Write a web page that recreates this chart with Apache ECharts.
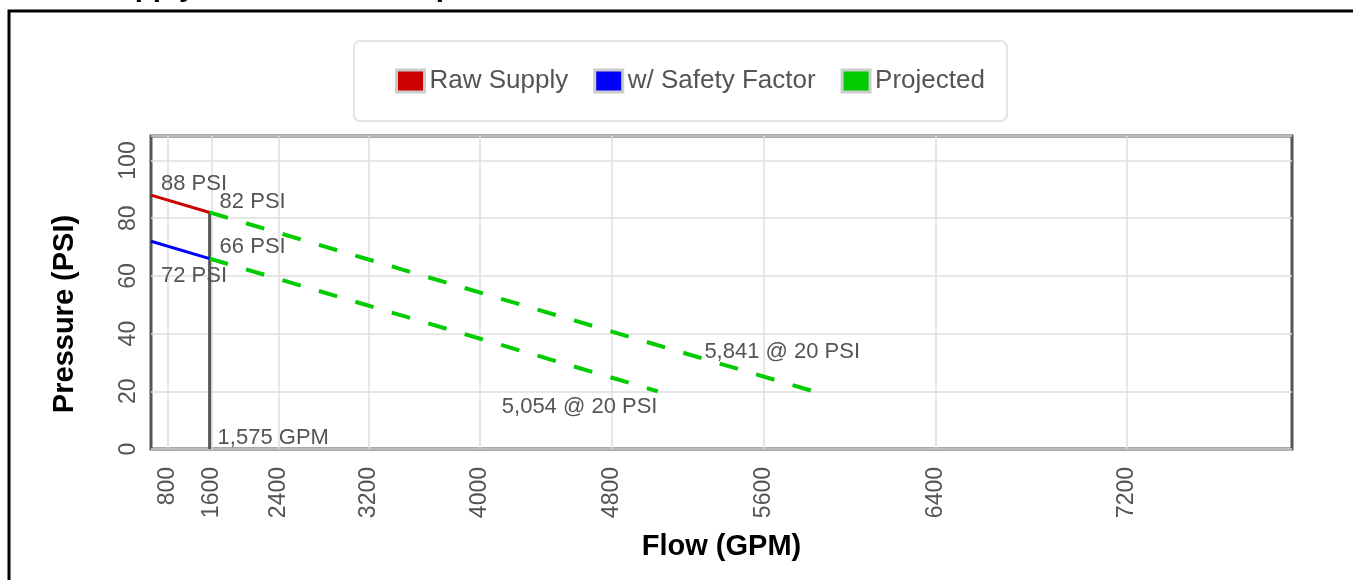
<!DOCTYPE html>
<html><head><meta charset="utf-8">
<script src="https://cdn.jsdelivr.net/npm/echarts@6/dist/echarts.min.js"></script>
<style>html,body{margin:0;padding:0;background:#fff;overflow:hidden}#c{width:1353px;height:580px}</style>
</head><body><div id="c"></div>
<script>
// ---- data ----
const EXP = 1.85;                       // N^1.85 hydraulic graph scale
const flowTicks = [800, 1600, 2400, 3200, 4000, 4800, 5600, 6400, 7200];
const pressureTicks = [0, 20, 40, 60, 80, 100];
const flowMax = 7837;
const pressureMax = 108.5;

const rawFlows = [0, 1575];
const rawPressures = [88, 82];
const safetyFlows = [0, 1575];
const safetyPressures = [72, 66];
const projRawFlows = [1575, 5841];
const projRawPressures = [82, 20];
const projSafetyFlows = [1575, 5054];
const projSafetyPressures = [66, 20];
const testFlows = [1575, 1575];
const testPressures = [0, 82];

const FONT = 'Liberation Sans, Arial, Helvetica, sans-serif';
const LABEL_COLOR = '#545454';

function t(q) { return Math.pow(q / 1000, EXP); }
function fmtFlow(q) { return q.toLocaleString('en-US'); }
function pts(xs, ys, labels) {
  return xs.map((q, i) => {
    const d = { value: [t(q), ys[i]] };
    if (labels && labels[i]) {
      d.label = Object.assign({
        show: true, position: 'right', distance: 0,
        fontSize: 22, color: LABEL_COLOR, fontFamily: FONT
      }, labels[i]);
    }
    return d;
  });
}

const chart = echarts.init(document.getElementById('c'), null, { renderer: 'canvas' });

const series = [
  {
    name: 'grid', type: 'line', data: [], z: 1, silent: true,
    markLine: {
      silent: true, symbol: ['none', 'none'], animation: false, z: 1,
      label: { show: false },
      lineStyle: { color: '#dedede', width: 1.5, type: 'solid' },
      data: flowTicks.map(q => ({ xAxis: t(q) }))
    }
  },
  {
    name: 'Raw Supply', type: 'line', z: 3,
    symbol: 'circle', symbolSize: 0, showSymbol: true,
    itemStyle: { color: '#cc0000' },
    lineStyle: { color: '#cc0000', width: 3 },
    data: pts(rawFlows, rawPressures, [
      { formatter: rawPressures[0] + ' PSI', offset: [10, -11] },
      { formatter: rawPressures[1] + ' PSI', offset: [10, -11] }
    ])
  },
  {
    name: 'w/ Safety Factor', type: 'line', z: 3,
    symbol: 'circle', symbolSize: 0, showSymbol: true,
    itemStyle: { color: '#0000ff' },
    lineStyle: { color: '#0000ff', width: 3 },
    data: pts(safetyFlows, safetyPressures, [
      { formatter: safetyPressures[0] + ' PSI', offset: [10, 35] },
      { formatter: safetyPressures[1] + ' PSI', offset: [10, -12] }
    ])
  },
  {
    name: 'Projected', type: 'line', z: 3,
    symbol: 'circle', symbolSize: 0, showSymbol: true,
    itemStyle: { color: '#00cc00' },
    lineStyle: { color: '#00cc00', width: 4, type: [19, 19] },
    data: pts(projRawFlows, projRawPressures, [
      null,
      { formatter: fmtFlow(projRawFlows[1]) + ' @ ' + projRawPressures[1] + ' PSI', offset: [-109, -39] }
    ])
  },
  {
    name: 'Projected', type: 'line', z: 3,
    symbol: 'circle', symbolSize: 0, showSymbol: true,
    itemStyle: { color: '#00cc00' },
    lineStyle: { color: '#00cc00', width: 4, type: [19, 19] },
    data: pts(projSafetyFlows, projSafetyPressures, [
      null,
      { formatter: fmtFlow(projSafetyFlows[1]) + ' @ ' + projSafetyPressures[1] + ' PSI', offset: [-156, 16] }
    ])
  },
  {
    name: 'Test Flow', type: 'line', z: 2,
    symbol: 'circle', symbolSize: 0, showSymbol: true,
    itemStyle: { color: '#555555' },
    lineStyle: { color: '#555555', width: 3 },
    data: pts(testFlows, testPressures, [
      { formatter: fmtFlow(testFlows[0]) + ' GPM', offset: [8, -11] },
      null
    ])
  }
];

chart.setOption({
  animation: false,
  backgroundColor: '#ffffff',
  title: {
    text: 'Water Supply Test Results Graph',
    left: 8, top: -27, padding: 0,
    textStyle: { fontSize: 29.5, fontWeight: 'bold', color: '#000', fontFamily: FONT }
  },
  graphic: [{
    type: 'rect', silent: true, z: -10,
    shape: { x: 9, y: 11, width: 1500, height: 800 },
    style: { fill: 'none', stroke: '#000', lineWidth: 3 }
  }],
  legend: {
    data: ['Raw Supply', 'w/ Safety Factor', 'Projected'],
    left: 354, top: 41,
    padding: [26, 22, 26, 41],
    itemGap: 25, itemWidth: 28, itemHeight: 22,
    icon: 'rect',
    backgroundColor: '#ffffff',
    borderColor: '#e4e4e4', borderWidth: 2, borderRadius: 6,
    itemStyle: { borderColor: '#cccccc', borderWidth: 3 },
    textStyle: { fontSize: 26, color: LABEL_COLOR, fontFamily: FONT, lineHeight: 28 },
    selectedMode: false
  },
  grid: {
    left: 151, right: 61, top: 136, bottom: 131,
    show: true, borderColor: '#555555', borderWidth: 3, backgroundColor: '#ffffff'
  },
  xAxis: {
    type: 'value', min: 0, max: t(flowMax),
    name: 'Flow (GPM)', nameLocation: 'middle', nameGap: 83,
    nameTextStyle: { fontSize: 29, fontWeight: 'bold', color: '#000', fontFamily: FONT },
    axisLine: { show: false },
    axisTick: { show: false, customValues: flowTicks.map(t) },
    splitLine: { show: false },
    axisLabel: {
      customValues: flowTicks.map(t),
      rotate: 90, margin: 18, fontSize: 23, color: LABEL_COLOR, fontFamily: FONT,
      formatter: function (v) {
        let best = flowTicks[0], bd = Infinity;
        flowTicks.forEach(q => { const d = Math.abs(t(q) - v); if (d < bd) { bd = d; best = q; } });
        return String(best);
      }
    }
  },
  yAxis: {
    type: 'value', min: 0, max: pressureMax, interval: 20,
    name: 'Pressure (PSI)', nameLocation: 'middle', nameGap: 72, nameRotate: 90,
    nameTextStyle: { fontSize: 29, fontWeight: 'bold', color: '#000', fontFamily: FONT, padding: [0, 43, 0, 0] },
    axisLine: { show: false },
    axisTick: { show: false },
    splitLine: { show: true, lineStyle: { color: '#dedede', width: 1.5 } },
    axisLabel: {
      customValues: pressureTicks,
      rotate: 90, margin: 11, fontSize: 23, color: LABEL_COLOR, fontFamily: FONT
    }
  },
  series: series
});
</script>
</body></html>
